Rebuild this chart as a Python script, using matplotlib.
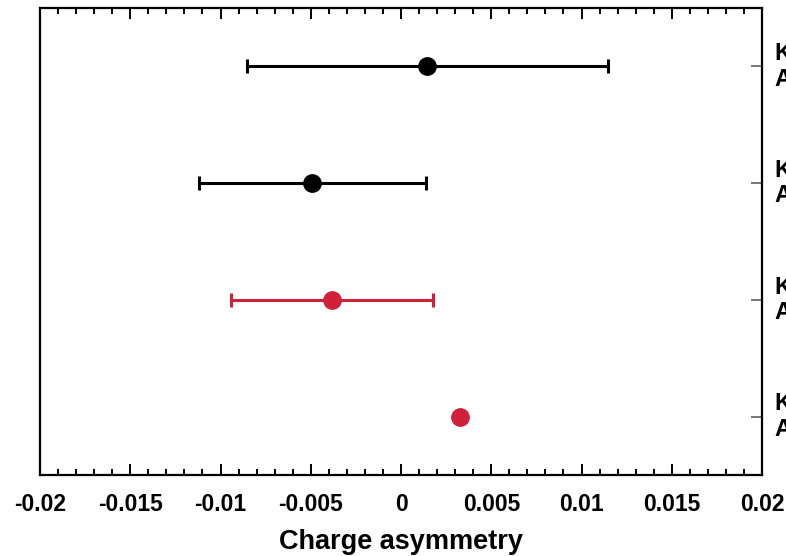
import matplotlib
matplotlib.use("Agg")
import matplotlib.pyplot as plt
from matplotlib.ticker import MultipleLocator

plt.rcParams['font.family'] = ['Liberation Sans', 'DejaVu Sans']
plt.rcParams['font.weight'] = 'bold'

# Values (top row first)
rows = [4, 3, 2, 1]
labels = ['K\nA', 'K\nA', 'K\nA', 'K\nA']
values = [0.00144, -0.00493, -0.00382, 0.00327]
err_lo = [0.00997, 0.00626, 0.00560, 0.0]
err_hi = [0.01003, 0.00632, 0.00559, 0.0]
colors = ['black', 'black', '#cf2139', '#cf2139']

fig = plt.figure(figsize=(7.86, 5.56), dpi=100)
ax = fig.add_axes([0.0509, 0.1457, 0.9186, 0.8399])

for y, v, lo, hi, c in zip(rows, values, err_lo, err_hi, colors):
    if lo > 0 or hi > 0:
        ax.errorbar([v], [y], xerr=[[lo], [hi]], fmt='o', color=c, ms=12.5,
                    elinewidth=2.2, capsize=5, capthick=2.2)
    else:
        ax.plot([v], [y], 'o', color=c, ms=12.5)

ax.set_xlim(-0.02, 0.02)
ax.set_ylim(0.5, 4.5)
ax.xaxis.set_minor_locator(MultipleLocator(0.001))
ticks = [-0.02, -0.015, -0.01, -0.005, 0, 0.005, 0.01, 0.015, 0.02]
ax.set_xticks(ticks)
ax.set_xticklabels(['-0.02', '-0.015', '-0.01', '-0.005', '0', '0.005', '0.01', '0.015', '0.02'])

ax.tick_params(axis='x', which='both', direction='in', top=True, bottom=True,
               labelsize=16.5, pad=13, width=1.4, color='black')
ax.tick_params(axis='x', which='major', length=8)
ax.tick_params(axis='x', which='minor', length=4)

ax.yaxis.tick_right()
ax.set_yticks(rows)
ax.set_yticklabels(labels, fontsize=17, fontweight='bold', va='center', linespacing=1.15)
ax.tick_params(axis='y', which='both', direction='in', left=False, right=True,
               length=8, width=1.4, color='#777777', pad=9)

for s in ax.spines.values():
    s.set_linewidth(1.6)

ax.set_xlabel('Charge asymmetry', fontsize=19.5, fontweight='bold', labelpad=9)

fig.savefig('out.png', dpi=100)
